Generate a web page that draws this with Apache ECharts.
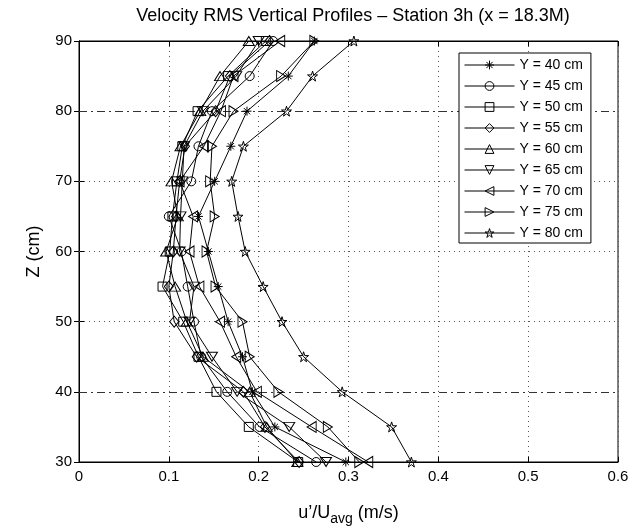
<!DOCTYPE html>
<html>
<head>
<meta charset="utf-8">
<script src="https://cdn.jsdelivr.net/npm/echarts@6/dist/echarts.min.js"></script>
<style>
  html, body { margin: 0; padding: 0; background: #fff; }
  #chart { width: 642px; height: 531px; }
</style>
</head>
<body>
<div id="chart"></div>
<script>
// heights (cm) where each profile was sampled
const zLevels = [30, 35, 40, 45, 50, 55, 60, 65, 70, 75, 80, 85, 90];

// u'/Uavg, one list per lateral position
const y40 = [0.297, 0.218, 0.193, 0.182, 0.166, 0.155, 0.144, 0.133, 0.151, 0.169, 0.187, 0.233, 0.262];
const y45 = [0.264, 0.201, 0.165, 0.136, 0.128, 0.121, 0.114, 0.100, 0.125, 0.133, 0.148, 0.190, 0.216];
const y50 = [0.244, 0.189, 0.153, 0.133, 0.116, 0.093, 0.101, 0.104, 0.109, 0.115, 0.132, 0.166, 0.208];
const y55 = [0.245, 0.207, 0.183, 0.131, 0.106, 0.100, 0.105, 0.108, 0.112, 0.118, 0.152, 0.168, 0.212];
const y60 = [0.243, 0.209, 0.190, 0.138, 0.120, 0.107, 0.097, 0.110, 0.103, 0.113, 0.135, 0.157, 0.189];
const y65 = [0.275, 0.234, 0.176, 0.148, 0.123, 0.128, 0.112, 0.113, 0.115, 0.117, 0.138, 0.175, 0.200];
const y70 = [0.322, 0.259, 0.198, 0.175, 0.157, 0.134, 0.123, 0.127, 0.112, 0.139, 0.158, 0.172, 0.224];
const y75 = [0.312, 0.277, 0.222, 0.190, 0.182, 0.152, 0.142, 0.151, 0.146, 0.148, 0.172, 0.225, 0.262];
const y80 = [0.370, 0.348, 0.293, 0.250, 0.226, 0.205, 0.185, 0.177, 0.170, 0.183, 0.231, 0.260, 0.306];

const seriesNames = ['Y = 40 cm', 'Y = 45 cm', 'Y = 50 cm', 'Y = 55 cm', 'Y = 60 cm',
                     'Y = 65 cm', 'Y = 70 cm', 'Y = 75 cm', 'Y = 80 cm'];
const seriesValues = [y40, y45, y50, y55, y60, y65, y70, y75, y80];

// matlab-ish markers
const markers = [
  { symbol: 'path://M0,-10L0,10M-10,0L10,0M-7,-7L7,7M-7,7L7,-7', size: 9 },
  { symbol: 'circle', size: 9 },
  { symbol: 'rect', size: 9 },
  { symbol: 'diamond', size: [9, 11] },
  { symbol: 'path://M10,0L20,17L0,17Z', size: [11, 9] },
  { symbol: 'path://M0,0L20,0L10,17Z', size: [11, 9] },
  { symbol: 'path://M17,0L17,20L0,10Z', size: [9, 11] },
  { symbol: 'path://M0,0L0,20L17,10Z', size: [9, 11] },
  { symbol: 'path://M50,0L61,35L98,35L68,57L79,91L50,70L21,91L32,57L2,35L39,35Z', size: 10 }
];

const font = 'Liberation Sans, Arial, Helvetica, sans-serif';

const series = seriesNames.map((name, i) => ({
  name: name,
  type: 'line',
  data: seriesValues[i].map((v, k) => [v, zLevels[k]]),
  symbol: markers[i].symbol,
  symbolSize: markers[i].size,
  showAllSymbol: true,
  lineStyle: { color: '#000', width: 1 },
  itemStyle: { color: 'rgba(0,0,0,0)', borderColor: '#000', borderWidth: 1 },
  emphasis: { disabled: true },
  z: 2
}));

// reference lines: dash-dot at 40/80, dotted elsewhere
series[0].markLine = {
  silent: true,
  symbol: 'none',
  label: { show: false },
  animation: false,
  z: 1,
  data: [
    { yAxis: 40, lineStyle: { type: [8, 4, 2, 4], color: '#333', width: 1 } },
    { yAxis: 80, lineStyle: { type: [8, 4, 2, 4], color: '#333', width: 1 } },
    { yAxis: 50, lineStyle: { type: [1, 4], color: '#555', width: 1 } },
    { yAxis: 60, lineStyle: { type: [1, 4], color: '#555', width: 1 } },
    { yAxis: 70, lineStyle: { type: [1, 4], color: '#555', width: 1 } }
  ]
};

const chart = echarts.init(document.getElementById('chart'), null, { renderer: 'canvas' });

chart.setOption({
  animation: false,
  backgroundColor: '#fff',
  title: {
    text: 'Velocity RMS Vertical Profiles \u2013 Station 3h (x = 18.3M)',
    left: 348, top: 2, textAlign: 'center',
    textStyle: { fontFamily: font, fontSize: 18, fontWeight: 'normal', color: '#000' }
  },
  legend: {
    z: 20,
    orient: 'vertical',
    left: 459, top: 53,
    padding: [5, 8, 3, 5],
    itemWidth: 50, itemHeight: 11, itemGap: 7,
    backgroundColor: '#fff', borderColor: '#000', borderWidth: 1, borderRadius: 0,
    itemStyle: { color: 'rgba(0,0,0,0)', borderColor: '#000', borderWidth: 1 },
    lineStyle: { color: '#000', width: 1 },
    textStyle: { fontFamily: font, fontSize: 14, color: '#000' },
    data: seriesNames
  },
  grid: { left: 79, right: 24, top: 41, bottom: 66, show: true, borderColor: '#000', borderWidth: 1 },
  xAxis: [{
    type: 'value', min: 0, max: 0.6, interval: 0.1,
    name: '{a|u\u2019/U}{sub|avg}{a| (m/s)}',
    nameLocation: 'middle', nameGap: 38,
    nameTextStyle: {
      rich: {
        a: { fontFamily: font, fontSize: 18, color: '#000' },
        sub: { fontFamily: font, fontSize: 14, color: '#000', verticalAlign: 'bottom', padding: [12, 0, 0, 0] }
      }
    },
    axisLine: { show: true, lineStyle: { color: '#000' } },
    axisTick: { inside: true, length: 5, lineStyle: { color: '#000' } },
    axisLabel: { fontFamily: font, fontSize: 15, color: '#000', margin: 7 },
    splitLine: { show: true, lineStyle: { type: [1, 4], color: '#555' } }
  }, {
    type: 'value', min: 0, max: 0.6, interval: 0.1, position: 'top',
    axisLine: { show: true, lineStyle: { color: '#000' } },
    axisTick: { inside: true, length: 5, lineStyle: { color: '#000' } },
    axisLabel: { show: false }, splitLine: { show: false }
  }],
  yAxis: [{
    type: 'value', min: 30, max: 90, interval: 10,
    name: 'Z (cm)', nameLocation: 'middle', nameGap: 36,
    nameTextStyle: { fontFamily: font, fontSize: 18, color: '#000' },
    axisLine: { show: true, lineStyle: { color: '#000' } },
    axisTick: { inside: true, length: 5, lineStyle: { color: '#000' } },
    axisLabel: { fontFamily: font, fontSize: 15, color: '#000', margin: 7 },
    splitLine: { show: false }
  }, {
    type: 'value', min: 30, max: 90, interval: 10, position: 'right',
    axisLine: { show: true, lineStyle: { color: '#000' } },
    axisTick: { inside: true, length: 5, lineStyle: { color: '#000' } },
    axisLabel: { show: false }, splitLine: { show: false }
  }],
  series: series
});
</script>
</body>
</html>
